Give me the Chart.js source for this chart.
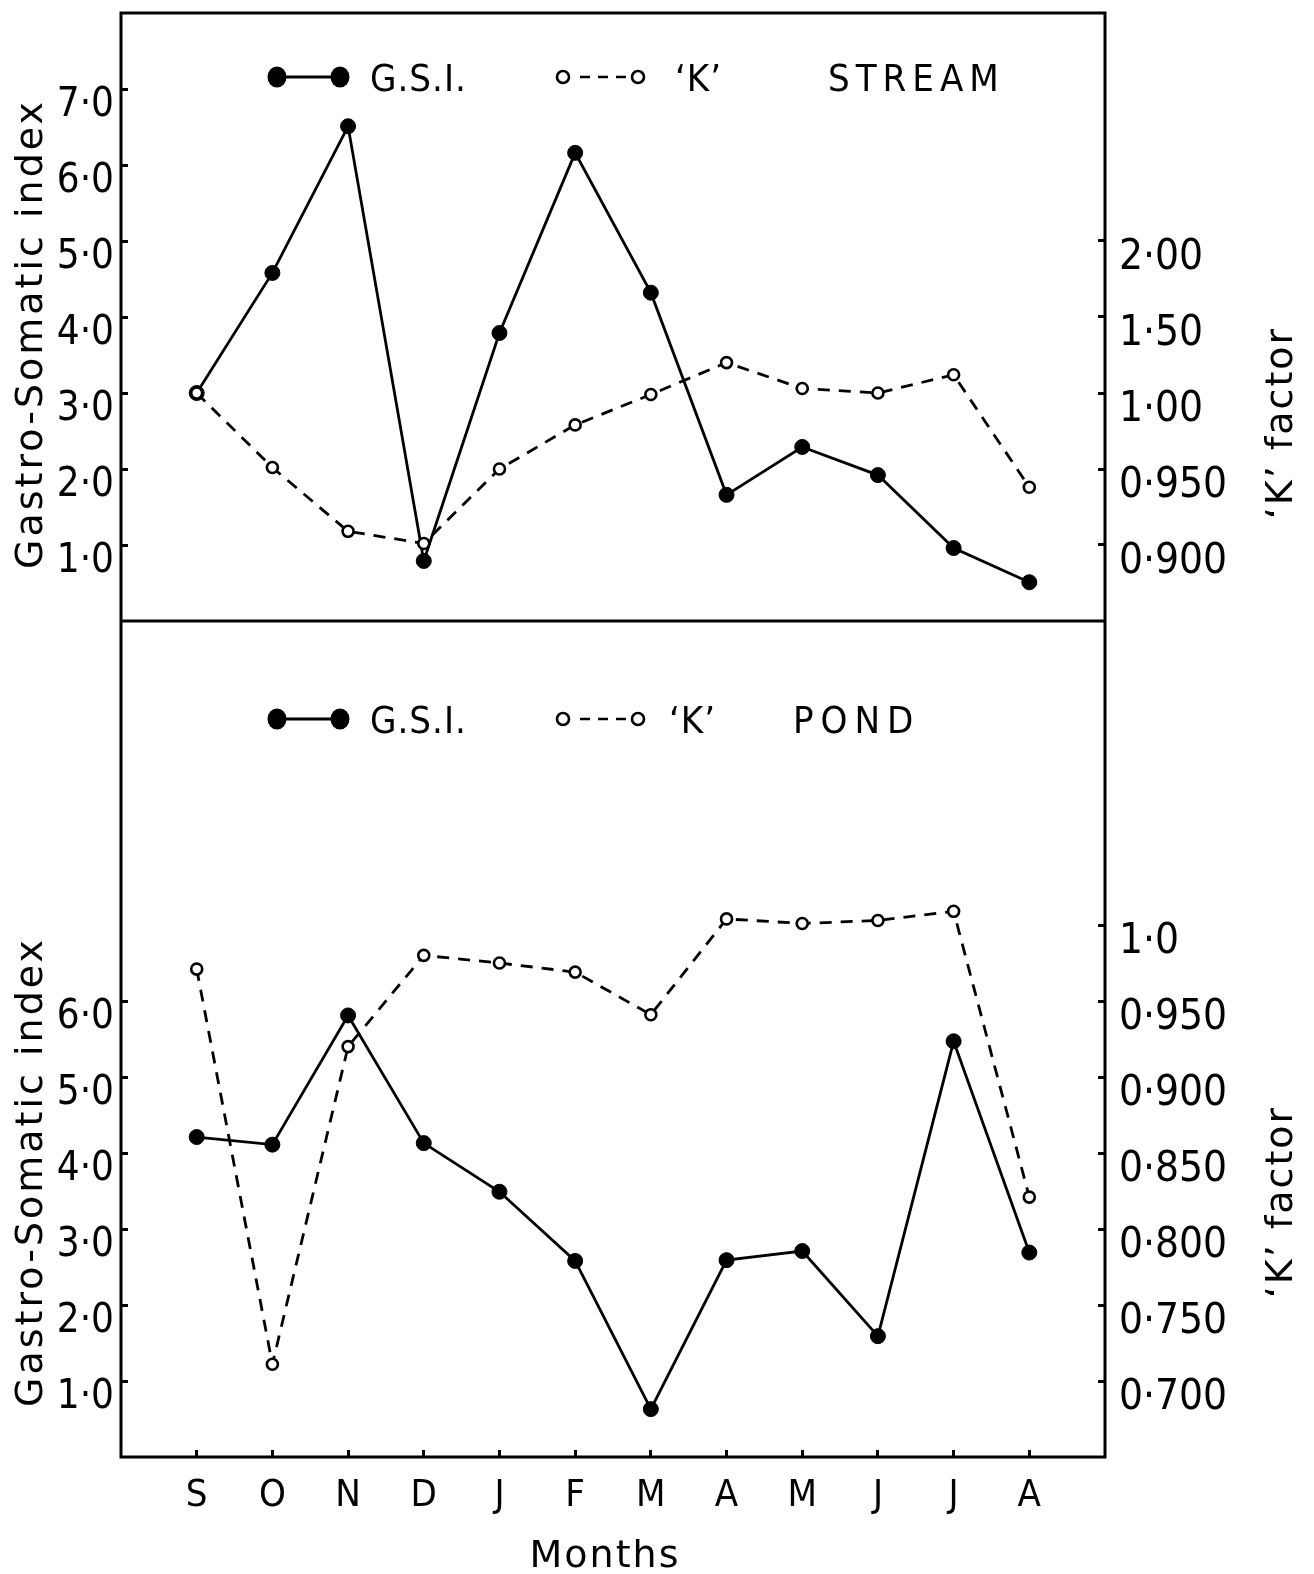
<!DOCTYPE html>
<html>
<head>
<meta charset="utf-8">
<title>Gastro-Somatic index and 'K' factor – stream and pond</title>
<script src="https://cdn.jsdelivr.net/npm/chart.js@4.4.1/dist/chart.umd.min.js"></script>
<style>
  html, body { margin: 0; padding: 0; background: #fff; }
  #wrap { position: relative; width: 1314px; height: 1574px; }
  canvas { display: block; }
</style>
</head>
<body>
<div id="wrap"><canvas id="chart" width="1314" height="1574"></canvas></div>
<script>
// Months, September to August
const months = ['S', 'O', 'N', 'D', 'J', 'F', 'M', 'A', 'M', 'J', 'J', 'A'];

// Stream fish
const gsiStream = [3.00, 4.58, 6.51, 0.79, 3.79, 6.16, 4.32, 1.66, 2.29, 1.92, 0.96, 0.51];
const kStream   = [1.000, 0.951, 0.909, 0.901, 0.950, 0.979, 0.999, 1.020, 1.003, 1.000, 1.012, 0.938];

// Pond fish
const gsiPond = [4.21, 4.11, 5.81, 4.13, 3.49, 2.58, 0.63, 2.59, 2.71, 1.59, 5.47, 2.69];
const kPond   = [0.971, 0.711, 0.920, 0.980, 0.975, 0.969, 0.941, 1.004, 1.001, 1.003, 1.009, 0.821];

// Axis ticks and their printed labels
const gsiStreamTicks = [1, 2, 3, 4, 5, 6, 7];
const gsiStreamLabels = ['1·0', '2·0', '3·0', '4·0', '5·0', '6·0', '7·0'];
const kStreamTicks = [0.90, 0.95, 1.00, 1.05, 1.10];
const kStreamLabels = ['0·900', '0·950', '1·00', '1·50', '2·00'];
const gsiPondTicks = [1, 2, 3, 4, 5, 6];
const gsiPondLabels = ['1·0', '2·0', '3·0', '4·0', '5·0', '6·0'];
const kPondTicks = [0.70, 0.75, 0.80, 0.85, 0.90, 0.95, 1.00];
const kPondLabels = ['0·700', '0·750', '0·800', '0·850', '0·900', '0·950', '1·0'];

const panelNames = ['STREAM', 'POND'];
const seriesNames = ['G.S.I.', '‘K’'];
const gsiTitle = 'Gastro-Somatic index';
const kTitle = '‘K’ factor';
const xTitle = 'Months';

const NARROW = "'DejaVu Sans Condensed', 'DejaVu Sans', sans-serif";
const WIDE = "'DejaVu Sans', sans-serif";
const INK = '#000';

const xy = arr => arr.map((v, i) => ({ x: i + 1, y: v }));

function yAxis(o) {
  return {
    type: 'linear',
    position: o.position,
    stack: o.stack,
    stackWeight: o.stackWeight,
    weight: o.weight,
    min: o.min,
    max: o.max,
    afterBuildTicks: s => { s.ticks = o.ticks.map(v => ({ value: v })); },
    afterFit: s => {
      s.width = o.width;
      s.paddingTop = 0; s.paddingBottom = 0; s.paddingLeft = 0; s.paddingRight = 0;
    },
    grid: { drawOnChartArea: false, drawTicks: true, tickLength: -7, tickColor: INK, tickWidth: 3 },
    border: { display: false },
    ticks: {
      autoSkip: false,
      padding: o.pad,
      labelOffset: 17,
      color: INK,
      font: { family: NARROW, size: o.size },
      callback: (v, i) => o.labels[i]
    }
  };
}

function dashedK(data, axis) {
  return {
    data: xy(data), yAxisID: axis, order: 0,
    borderColor: INK, borderWidth: 2.8, borderDash: [12, 9],
    pointRadius: 5.5, pointBackgroundColor: '#fff', pointBorderColor: INK, pointBorderWidth: 2.6,
    tension: 0, fill: false
  };
}
function solidGsi(data, axis) {
  return {
    data: xy(data), yAxisID: axis, order: 1,
    borderColor: INK, borderWidth: 2.8,
    pointRadius: 7.5, pointBackgroundColor: INK, pointBorderColor: INK, pointBorderWidth: 1,
    tension: 0, fill: false
  };
}

function text(ctx, str, x, y, font, spacing, align, rot) {
  ctx.save();
  ctx.translate(x, y);
  if (rot) ctx.rotate(rot);
  ctx.font = font;
  ctx.letterSpacing = spacing + 'px';
  ctx.textAlign = align;
  ctx.textBaseline = 'alphabetic';
  ctx.fillStyle = INK;
  ctx.fillText(str, 0, 0);
  ctx.restore();
}

// Frame, panel divider, axis titles and the key of each panel
const decor = {
  id: 'decor',
  afterDraw(chart) {
    const { ctx, chartArea: a, scales } = chart;
    ctx.save();
    ctx.strokeStyle = INK;
    ctx.lineWidth = 3;
    ctx.strokeRect(a.left, a.top, a.right - a.left, a.bottom - a.top);
    const mid = scales.gTop.bottom;
    ctx.beginPath(); ctx.moveTo(a.left, mid); ctx.lineTo(a.right, mid); ctx.stroke();

    const titleFont = '38px ' + WIDE;
    // left titles
    text(ctx, gsiTitle, a.left - 79, scales.gTop.top + 321, titleFont, 3, 'center', -Math.PI / 2);
    text(ctx, gsiTitle, a.left - 79, scales.gBot.top + 551, titleFont, 3, 'center', -Math.PI / 2);
    // right titles
    text(ctx, kTitle, a.right + 187, scales.gTop.top + 410, titleFont, 2, 'center', -Math.PI / 2);
    text(ctx, kTitle, a.right + 187, scales.gBot.top + 581, titleFont, 2, 'center', -Math.PI / 2);
    // x title
    text(ctx, xTitle, a.left + 484, a.bottom + 110, titleFont, 2, 'center', 0);

    // keys
    const keys = [
      { y: scales.gTop.top + 64, kx: 554, nx: 707, ns: 6 },
      { y: scales.gBot.top + 98, kx: 548, nx: 672, ns: 7 }
    ];
    const keyFont = '38px ' + NARROW;
    keys.forEach((k, p) => {
      const L = a.left, y = k.y;
      // solid sample with filled ends
      ctx.lineWidth = 3;
      ctx.setLineDash([]);
      ctx.beginPath(); ctx.moveTo(L + 156, y); ctx.lineTo(L + 219, y); ctx.stroke();
      ctx.fillStyle = INK;
      [156, 219].forEach(dx => { ctx.beginPath(); ctx.ellipse(L + dx, y, 9.5, 10.5, 0, 0, Math.PI * 2); ctx.fill(); });
      text(ctx, seriesNames[0], L + 249, y + 14, keyFont, 1, 'left', 0);
      // dashed sample with open ends
      ctx.lineWidth = 2.6;
      ctx.beginPath();
      [459, 477, 495].forEach(dx => { ctx.moveTo(L + dx, y); ctx.lineTo(L + dx + 10, y); });
      ctx.stroke();
      [442, 517].forEach(dx => {
        ctx.beginPath(); ctx.arc(L + dx, y, 6, 0, Math.PI * 2);
        ctx.fillStyle = '#fff'; ctx.fill(); ctx.stroke();
      });
      text(ctx, seriesNames[1], L + k.kx, y + 14, keyFont, 1, 'left', 0);
      text(ctx, panelNames[p], L + k.nx, y + 14, keyFont, k.ns, 'left', 0);
    });
    ctx.restore();
  }
};

new Chart(document.getElementById('chart'), {
  type: 'line',
  data: {
    datasets: [
      dashedK(kStream, 'kTop'),
      solidGsi(gsiStream, 'gTop'),
      dashedK(kPond, 'kBot'),
      solidGsi(gsiPond, 'gBot')
    ]
  },
  options: {
    responsive: false,
    animation: false,
    devicePixelRatio: 1,
    layout: { padding: { top: 13, left: 0, right: 0, bottom: 0 } },
    plugins: { legend: { display: false }, tooltip: { enabled: false } },
    scales: {
      x: {
        type: 'linear', position: 'bottom', min: 0, max: 13,
        afterBuildTicks: s => { s.ticks = months.map((m, i) => ({ value: i + 1 })); },
        afterFit: s => { s.height = 117; s.paddingLeft = 0; s.paddingRight = 0; s.paddingTop = 0; s.paddingBottom = 0; },
        grid: { drawOnChartArea: false, drawTicks: true, tickLength: -7, tickColor: INK, tickWidth: 3 },
        border: { display: false },
        ticks: {
          autoSkip: false, maxRotation: 0, minRotation: 0, padding: 23, color: INK,
          font: { family: NARROW, size: 38 },
          callback: (v, i) => months[i]
        }
      },
      gBot: yAxis({ position: 'left', stack: 'gsi', stackWeight: 11, weight: 0, min: 0, max: 11,
        ticks: gsiPondTicks, labels: gsiPondLabels, width: 121, pad: 14, size: 40 }),
      gTop: yAxis({ position: 'left', stack: 'gsi', stackWeight: 8, weight: 1, min: 0, max: 8,
        ticks: gsiStreamTicks, labels: gsiStreamLabels, width: 121, pad: 14, size: 40 }),
      kTop: yAxis({ position: 'right', stack: 'k', stackWeight: 8, weight: 0, min: 0.85, max: 1.25,
        ticks: kStreamTicks, labels: kStreamLabels, width: 209, pad: 21, size: 42 }),
      kBot: yAxis({ position: 'right', stack: 'k', stackWeight: 11, weight: 1, min: 0.65, max: 1.20,
        ticks: kPondTicks, labels: kPondLabels, width: 209, pad: 21, size: 42 })
    }
  },
  plugins: [decor]
});
</script>
</body>
</html>
